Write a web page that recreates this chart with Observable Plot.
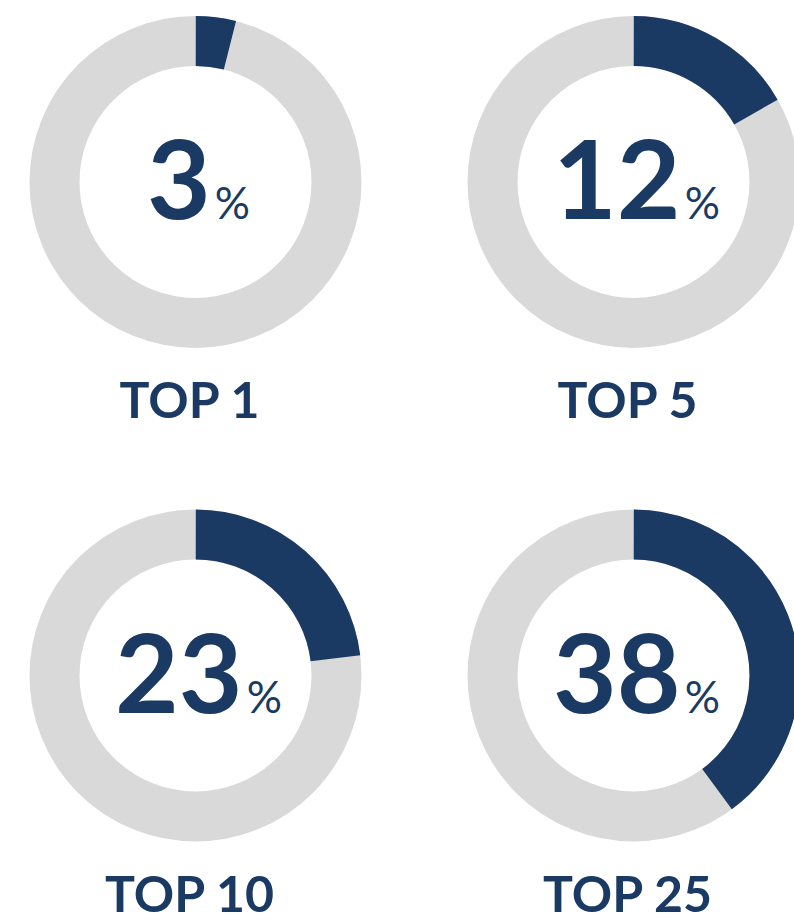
<!DOCTYPE html>
<html>
<head>
<meta charset="utf-8">
<script src="https://cdn.jsdelivr.net/npm/d3@7"></script>
<script src="https://cdn.jsdelivr.net/npm/@observablehq/plot@0.6"></script>
<style>
  html, body { margin: 0; padding: 0; background: #ffffff; }
  #chart { width: 794px; height: 924px; overflow: hidden; }
</style>
</head>
<body>
<div id="chart"></div>
<script>
// ---- data ----
const groups    = ["TOP 1", "TOP 5", "TOP 10", "TOP 25"];
const shownPct  = [3, 12, 23, 38];          // printed in the middle of each ring
const arcPct    = [3.9, 16.7, 23, 39.9];    // share of the ring drawn in navy (measured)

const NAVY = "#1b3a63";
const GREY = "#d9d9d9";

const data = groups.map((g, i) => ({
  label: g,
  shown: shownPct[i],
  arc: arcPct[i],
  col: i % 2,
  row: Math.floor(i / 2)
}));

const ringR = 141;      // radius of ring centreline (px)
const ringW = 50;       // ring thickness (px)
const C = 2 * Math.PI * ringR;

const arcMarks = data.map(d => {
  const L = (d.arc / 100) * C;
  return Plot.dot([d], {
    x: "col", y: "row", r: ringR,
    fill: "none", stroke: NAVY, strokeWidth: ringW,
    strokeDasharray: `${L} ${C - L}`,
    strokeDashoffset: 0.25 * C
  });
});

const chart = Plot.plot({
  width: 794,
  height: 924,
  marginLeft: 195,
  marginRight: 161,
  marginTop: 181.5,
  marginBottom: 249,
  x: { domain: [0, 1], axis: null },
  y: { domain: [0, 1], axis: null, reverse: true },
  style: { fontFamily: "Lato, 'Open Sans', sans-serif", background: "#ffffff", overflow: "hidden" },
  marks: [
    Plot.dot(data, { x: "col", y: "row", r: ringR, fill: "none", stroke: GREY, strokeWidth: ringW }),
    ...arcMarks,
    Plot.text(data, {
      x: "col", y: "row", text: d => `${d.shown}%`,
      fontSize: 110, fontWeight: 700, fill: NAVY,
      lineAnchor: "bottom", dy: 37, dx: 3
    }),
    Plot.text(data, {
      x: "col", y: "row", text: "label",
      fontSize: 50, fontWeight: 700, fill: NAVY,
      lineAnchor: "bottom", dy: 236, dx: -6
    })
  ]
});

// make the percent sign small and light, like the reference
chart.querySelectorAll("text").forEach(t => {
  const s = t.textContent;
  if (!s.endsWith("%")) return;
  t.textContent = s.slice(0, -1);
  const ts = document.createElementNS("http://www.w3.org/2000/svg", "tspan");
  ts.setAttribute("font-size", "44");
  ts.setAttribute("font-weight", "400");
  ts.setAttribute("dx", "4");
  ts.textContent = "%";
  t.appendChild(ts);
});

document.getElementById("chart").appendChild(chart);
</script>
</body>
</html>
